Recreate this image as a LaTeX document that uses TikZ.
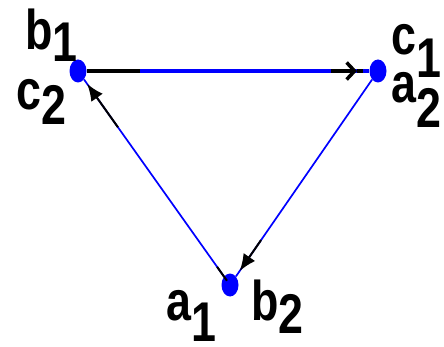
\documentclass[tikz,border=0pt]{standalone}
\usepackage{fontspec}
\usepackage{tikz}
\usetikzlibrary{arrows.meta,calc,shapes.geometric}
\newfontfamily\labelfont[FakeStretch=0.8]{Liberation Sans}
\definecolor{edgeblue}{HTML}{0000FF}
\newcommand{\vlabel}[3]{#1\raisebox{-#3pt}{#2}}

\begin{document}
\begin{tikzpicture}[x=1pt,y=-1pt,>=Latex,
  vertex/.style={ellipse,fill=edgeblue,inner sep=0pt,minimum width=17pt,minimum height=23pt},
  vname/.style={anchor=base west,inner sep=0pt,font=\labelfont\bfseries\fontsize{56}{56}\selectfont},
  topedge/.style={edgeblue,line width=3.5pt},
  sideedge/.style={edgeblue,line width=1.7pt},
  blackpart/.style={black,line width=2pt}]
  \useasboundingbox (0,0) rectangle (444,347);
  \node[vertex] (b) at (78,71) {};
  \node[vertex] (c) at (378,71) {};
  \node[vertex] (a) at (230,285) {};
  \draw[topedge] (b) -- (c);
  \draw[sideedge] (c) -- (a);
  \draw[sideedge] (a) -- (b);
  \coordinate (bc0) at ($(b)!0.03!(c)$);
  \coordinate (bc1) at ($(b)!0.207!(c)$);
  \coordinate (bc2) at ($(b)!0.843!(c)$);
  \coordinate (bc3) at ($(b)!0.93!(c)$);
  \coordinate (bc4) at ($(b)!0.95!(c)$);
  \coordinate (ab0) at ($(a)!0.02!(b)$);
  \coordinate (ab1) at ($(a)!0.085!(b)$);
  \coordinate (ab2) at ($(a)!0.737!(b)$);
  \coordinate (ab3) at ($(a)!0.94!(b)$);
  \coordinate (ca0) at ($(c)!0.79!(a)$);
  \coordinate (ca1) at ($(c)!0.935!(a)$);
  \draw[blackpart,line width=3.5pt] (bc0) -- (bc1);
  \draw[blackpart,line width=3.5pt,-{Straight Barb[length=8pt,width=17pt]}] (bc2) -- (bc3);
  \draw[blackpart,line width=3.5pt] (bc3) -- (bc4);
  \draw[blackpart] (ab0) -- (ab1);
  \draw[blackpart,-{Latex[length=17pt,width=14pt]}] (ab2) -- (ab3);
  \draw[blackpart,-{Latex[length=17pt,width=14pt]}] (ca0) -- (ca1);
  \node[vname] (b1) at (25,50) {\vlabel{b}{1}{12}};
  \node[vname] (c2) at (16,110) {\vlabel{c}{2}{15}};
  \node[vname] (c1) at (391,55) {\vlabel{c}{1}{23}};
  \node[vname] (a2) at (391,103) {\vlabel{a}{2}{25}};
  \node[vname] (a1) at (166,320) {\vlabel{a}{1}{21}};
  \node[vname] (b2) at (251,320) {\vlabel{b}{2}{13}};
\end{tikzpicture}
\end{document}
